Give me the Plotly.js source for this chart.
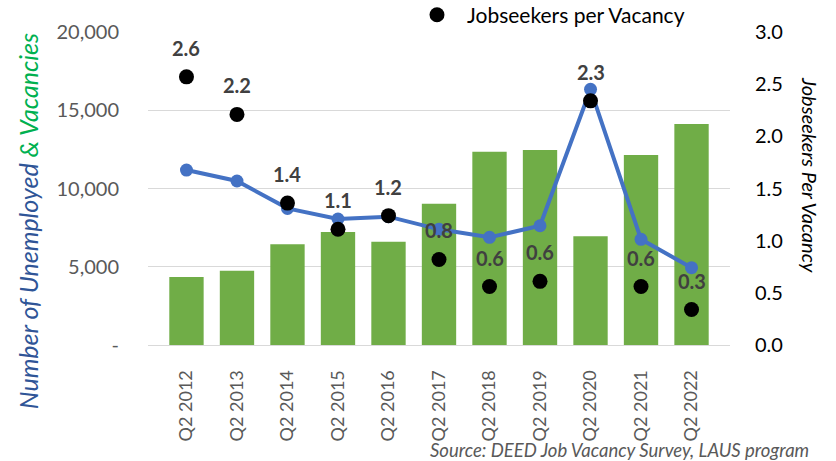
<!DOCTYPE html>
<html><head><meta charset="utf-8">
<script src="https://cdn.plot.ly/plotly-3.0.1.min.js"></script>
<style>html,body{margin:0;padding:0;background:#fff}#chart{width:836px;height:461px}</style>
</head><body><div id="chart"></div>
<script>
const categories = ['Q2 2012','Q2 2013','Q2 2014','Q2 2015','Q2 2016','Q2 2017','Q2 2018','Q2 2019','Q2 2020','Q2 2021','Q2 2022'];
const vacancies = [4350, 4750, 6430, 7220, 6600, 9030, 12350, 12460, 6950, 12140, 14120];
const unemployed = [11180, 10480, 8730, 8050, 8200, 7390, 6880, 7620, 16340, 6750, 4940];
const jobseekersPerVacancy = [2.57, 2.21, 1.36, 1.11, 1.24, 0.82, 0.56, 0.61, 2.34, 0.56, 0.34];
const leftTickVals = [0, 5000, 10000, 15000, 20000];
const leftTickText = ['-', '5,000', '10,000', '15,000', '20,000'];
const rightTickVals = [0, 0.5, 1, 1.5, 2, 2.5, 3];
const rightTickText = ['0.0', '0.5', '1.0', '1.5', '2.0', '2.5', '3.0'];

const FONT = 'Lato, "Open Sans", sans-serif';

const traces = [
  {type:'bar', x:categories, y:vacancies, marker:{color:'#70AD47'}, showlegend:false, hoverinfo:'y'},
  {type:'scatter', mode:'lines+markers', x:categories, y:unemployed,
   line:{color:'#4472C4', width:4}, marker:{color:'#4472C4', size:13}, showlegend:false},
  {type:'scatter', mode:'markers', x:categories, y:jobseekersPerVacancy, yaxis:'y2',
   name:'Jobseekers per Vacancy', marker:{color:'#000000', size:15}, showlegend:true}
];

const annotations = jobseekersPerVacancy.map((v, i) => ({
  x: categories[i], y: v, xref:'x', yref:'y2', text: v.toFixed(1), showarrow:false,
  yshift: 29, font:{family:FONT, size:20, color:'#404040', weight:'bold'}
}));
annotations.push({
  xref:'paper', yref:'paper', x:-0.206, y:0.396, xanchor:'center', yanchor:'middle', textangle:-90,
  showarrow:false,
  text:'<i><span style="color:#2F5597">Number of Unemployed</span> <span style="color:#00B050">&amp; Vacancies</span></i>',
  font:{family:FONT, size:25}
});
annotations.push({
  xref:'paper', yref:'paper', x:1.1375, y:0.543, xanchor:'center', yanchor:'middle', textangle:90,
  showarrow:false, text:'<i>Jobseekers Per Vacancy</i>', font:{family:FONT, size:20, color:'#000'}
});
annotations.push({
  xref:'paper', yref:'paper', x:0.481, y:-0.336, xanchor:'left', yanchor:'middle',
  showarrow:false, text:'<i>Source: DEED Job Vacancy Survey, LAUS program</i>',
  font:{family:FONT, size:18.5, color:'#595959'}
});

const layout = {
  width:836, height:461,
  margin:{l:148, r:106, t:32, b:116, autoexpand:false},
  paper_bgcolor:'#fff', plot_bgcolor:'#fff',
  font:{family:FONT, size:20, color:'#595959'},
  bargap:0.32,
  xaxis:{type:'category', tickangle:-90, showgrid:false, showline:false, zeroline:false,
         ticks:'outside', ticklen:17, tickcolor:'rgba(0,0,0,0)',
         tickfont:{family:FONT, size:18, color:'#595959'}},
  yaxis:{range:[0,20000], tickvals:leftTickVals, ticktext:leftTickText,
         showgrid:true, gridcolor:'#D9D9D9', gridwidth:1, zeroline:true, zerolinecolor:'#D9D9D9',
         showline:false, ticks:'outside', ticklen:24, tickcolor:'rgba(0,0,0,0)',
         tickfont:{family:FONT, size:20, color:'#595959'}},
  yaxis2:{range:[0,3], overlaying:'y', side:'right', tickvals:rightTickVals, ticktext:rightTickText,
          showgrid:false, zeroline:false, showline:false, ticks:'outside', ticklen:20, tickcolor:'rgba(0,0,0,0)',
          tickfont:{family:FONT, size:20, color:'#000'}},
  legend:{orientation:'h', x:0.445, y:1.054, xanchor:'left', yanchor:'middle', itemwidth:50,
          font:{family:FONT, size:21, color:'#000'}, bgcolor:'rgba(0,0,0,0)'},
  annotations:annotations,
  showlegend:true
};

Plotly.newPlot('chart', traces, layout, {displayModeBar:false, staticPlot:true});
</script>
</body></html>
